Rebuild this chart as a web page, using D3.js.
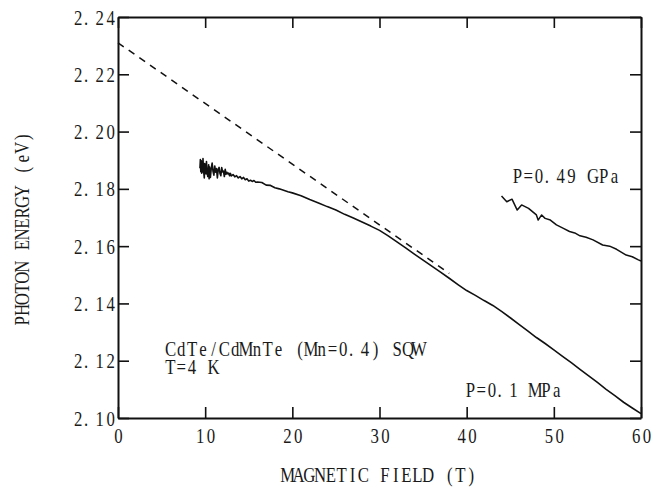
<!DOCTYPE html>
<html>
<head>
<meta charset="utf-8">
<script src="https://cdnjs.cloudflare.com/ajax/libs/d3/7.8.5/d3.min.js"></script>
<style>
  body { margin: 0; background: #fff; }
  svg text { font-family: "Liberation Serif", "DejaVu Serif", serif; font-size: 21px; fill: #1a1a1a; }
</style>
</head>
<body>
<div id="chart"></div>
<script>
// axis ticks
var fieldTicks = [0, 10, 20, 30, 40, 50, 60];
var energyTicks = [2.10, 2.12, 2.14, 2.16, 2.18, 2.20, 2.22, 2.24];

// P=0.1 MPa trace (noisy at low field)
var fieldLow = [9.4, 9.45, 9.5, 9.55, 9.6, 9.7, 9.75, 9.8, 9.9, 9.95, 10.0, 10.1, 10.15, 10.2, 10.3, 10.4, 10.45, 10.5, 10.6, 10.7, 10.8, 10.9,
  11.0, 11.1, 11.2, 11.3, 11.4, 11.5, 11.6, 11.7, 11.8, 11.9, 12.0, 12.1, 12.2, 12.3, 12.4, 12.5,
  12.6, 12.7, 12.8, 12.9, 13.0, 13.2, 13.4, 13.6, 13.8, 14.0, 14.2, 14.4, 14.6, 14.8, 15.0, 15.2,
  15.4, 15.6, 15.8, 16.0, 16.5, 17.0, 17.5, 18.0, 18.5, 19.0, 19.5, 20, 21, 22, 23, 24, 25, 26,
  27, 28, 29, 30, 31, 32, 33, 34, 35, 36, 37, 38, 39, 40, 41, 42, 43, 44, 45, 46, 47, 48, 49, 50,
  51, 52, 53, 54, 55, 56, 57, 58, 59, 60];
var energyLow = [2.1872, 2.1902, 2.1860, 2.1898, 2.1855, 2.1862, 2.1906, 2.1870, 2.1838, 2.1888, 2.1880, 2.1852, 2.1895, 2.1866, 2.1843, 2.1884, 2.1835, 2.1876, 2.1840, 2.1872, 2.1890, 2.1861,
  2.1848, 2.1880, 2.1858, 2.1871, 2.1838, 2.1868, 2.1875, 2.1854, 2.1846, 2.1874, 2.1859, 2.1862, 2.1843, 2.1868, 2.1851, 2.1858,
  2.1852, 2.1855, 2.1846, 2.1854, 2.1845, 2.1850, 2.1842, 2.1846, 2.1838, 2.1843, 2.1835, 2.1840, 2.1832, 2.1835, 2.1827, 2.1830,
  2.1826, 2.1829, 2.1823, 2.1824, 2.1822, 2.1813, 2.1812, 2.1804, 2.1800, 2.1795, 2.1790, 2.1786, 2.1776, 2.1763, 2.1751, 2.1738, 2.1726, 2.1711,
  2.1698, 2.1684, 2.1670, 2.1655, 2.1636, 2.1615, 2.1594, 2.1572, 2.1551, 2.1530, 2.1509, 2.1488, 2.1466, 2.1445, 2.1428, 2.1410, 2.1393, 2.1372, 2.1350, 2.1327, 2.1304, 2.1281, 2.1260, 2.1238,
  2.1215, 2.1193, 2.1170, 2.1147, 2.1124, 2.1100, 2.1078, 2.1055, 2.1035, 2.1015];

// P=0.49 GPa trace
var fieldHigh = [44.0, 44.6, 45.2, 45.8, 46.3, 47.1, 48.0, 48.2, 48.6, 49.0, 49.6, 50.3, 51.1, 51.8, 52.4, 53.0, 53.7, 54.5, 55.6, 56.4, 57.2, 58.3, 59.0, 59.7, 60.0];
var energyHigh = [2.1775, 2.1755, 2.1764, 2.1726, 2.1744, 2.1732, 2.1709, 2.1691, 2.1709, 2.1697, 2.1691, 2.1674, 2.1662, 2.1651, 2.1646, 2.1636, 2.1631, 2.1622, 2.1604, 2.1600, 2.1589, 2.1569, 2.1563, 2.1552, 2.1548];

// linear extrapolation (dashed)
var fitField = [0, 38];
var fitEnergy = [2.2310, 2.1505];

var W = 654, H = 488;
var margin = {top: 17, right: 13, bottom: 70, left: 118};
var width = W - margin.left - margin.right,
    height = H - margin.top - margin.bottom;

// half-width "typewriter" look: every character sits in a fixed cell
var cell = 10.8;   // px per character
var squeeze = 0.8; // horizontal squeeze of the serif glyphs

var svg = d3.select("#chart").append("svg")
  .attr("width", W)
  .attr("height", H);

var g = svg.append("g")
  .attr("transform", "translate(" + margin.left + "," + margin.top + ")");

var x = d3.scaleLinear().domain([0, 60]).range([0, width]);
var y = d3.scaleLinear().domain([2.10, 2.24]).range([height, 0]);

// put each character of a text element in its own cell
// align: "start", "middle" or "end" relative to the translate point
function mono(el, px, py, align, rot) {
  var t = d3.select(el);
  var s = t.text();
  var n = s.length;
  var x0 = align == "end" ? -n * cell : (align == "middle" ? -n * cell / 2 : 0);
  var xs = Array.from(s, function(c, i) {
    var cx = x0 + (i + 0.5) * cell;
    if (c == ".") cx -= cell * 0.28;   // period hugs the left of its cell
    return (cx / squeeze).toFixed(2);
  });
  t.attr("x", xs.join(" "))
   .attr("y", null).attr("dy", null)
   .attr("text-anchor", "middle")
   .attr("transform", "translate(" + px + "," + py + ")" + (rot ? " rotate(" + rot + ")" : "") + " scale(" + squeeze + ",1)");
}

// frame with inward ticks
var bottomAxis = g.append("g")
  .attr("transform", "translate(0," + height + ")")
  .call(d3.axisBottom(x).tickValues(fieldTicks).tickSizeInner(-11).tickSizeOuter(0).tickFormat(d3.format("d")));
bottomAxis.selectAll("text").each(function() { mono(this, 0, 25, "middle"); });

var leftAxis = g.append("g")
  .call(d3.axisLeft(y).tickValues(energyTicks).tickSizeInner(-11).tickSizeOuter(0).tickFormat(d3.format(".2f")));
leftAxis.selectAll("text").each(function() { mono(this, -2, 7, "end"); });

g.append("g")
  .call(d3.axisTop(x).tickValues(fieldTicks).tickSizeInner(-11).tickSizeOuter(0).tickFormat(""));
g.append("g")
  .attr("transform", "translate(" + width + ",0)")
  .call(d3.axisRight(y).tickValues(energyTicks).tickSizeInner(-11).tickSizeOuter(0).tickFormat(""));

g.selectAll(".domain").attr("stroke", "#111").attr("stroke-width", 2);
g.selectAll(".tick line").attr("stroke", "#111").attr("stroke-width", 1.6);
g.selectAll(".tick text").attr("fill", "#1a1a1a").attr("font-family", null).attr("font-size", null);

// curves
function trace(xs, ys) {
  return d3.line()
    .x(function(d) { return x(xs[d]); })
    .y(function(d) { return y(ys[d]); })(d3.range(xs.length));
}

g.append("path")
  .attr("d", trace(fitField, fitEnergy))
  .attr("fill", "none")
  .attr("stroke", "#111")
  .attr("stroke-width", 1.5)
  .attr("stroke-dasharray", "7,6");

g.append("path")
  .attr("d", trace(fieldLow, energyLow))
  .attr("fill", "none")
  .attr("stroke", "#111")
  .attr("stroke-width", 1.6)
  .attr("stroke-linejoin", "round");

g.append("path")
  .attr("d", trace(fieldHigh, energyHigh))
  .attr("fill", "none")
  .attr("stroke", "#111")
  .attr("stroke-width", 1.5)
  .attr("stroke-linejoin", "round");

// texts
function note(str, px, py, align, rot) {
  var t = g.append("text").text(str);
  mono(t.node(), px, py, align || "start", rot);
}

note("CdTe/CdMnTe (Mn=0.4) SQW", x(5.4), y(2.1217));
note("T=4 K", x(5.4), y(2.1152));
note("P=0.1 MPa", x(39.8), y(2.1072));
note("P=0.49 GPa", x(45.2), y(2.1822));

note("MAGNETIC FIELD (T)", width / 2, height + 64, "middle");
note("PHOTON ENERGY (eV)", 29 - margin.left, 229 - margin.top, "middle", -90);
</script>
</body>
</html>
